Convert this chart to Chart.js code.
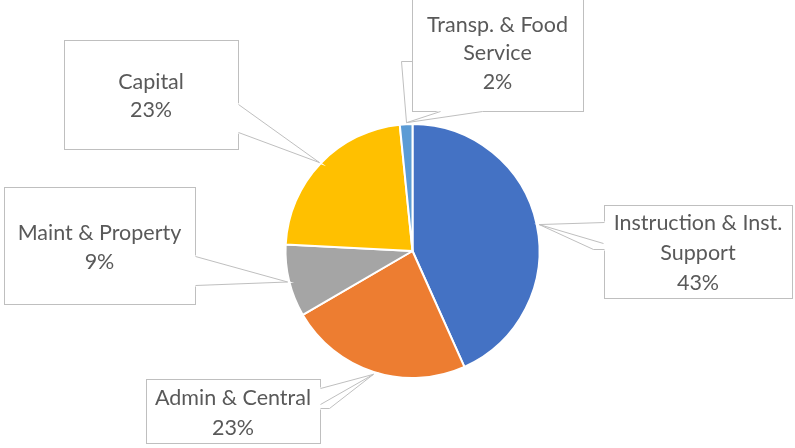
<!DOCTYPE html>
<html lang="en">
<head>
  <meta charset="UTF-8">
  <title>Budget Share</title>
  <script src="https://cdn.jsdelivr.net/npm/chart.js"></script>
  <style>
    body {
      margin: 0;
      background-color: #fff;
    }

    .chart-container {
      position: relative;
      width: 795px;
      height: 448px;
    }
  </style>
</head>
<body>
  <div class="chart-container">
    <canvas id="budget-chart"></canvas>
  </div>

  <script>
    // Data
    const categories = ["Instruction & Inst. Support", "Admin & Central", "Maint & Property", "Capital", "Transp. & Food Service"];
    const shares = [43.3, 23.3, 9.2, 22.6, 1.6];
    const percentLabels = ["43%", "23%", "9%", "23%", "2%"];
    const labelLines = [["Instruction & Inst.", "Support"], ["Admin & Central"], ["Maint & Property"], ["Capital"], ["Transp. & Food", "Service"]];
    const sliceColors = ["#4472C4", "#ED7D31", "#A5A5A5", "#FFC000", "#5B9BD5"];

    // Callout boxes (layout only); "T" stands for the tip on the slice edge
    const callouts = [
      {
        box: [604, 205, 188, 93], textX: 698, textY: [223, 253, 283],
        gap: [[604, 222], "T", [604, 249]],
        lines: [[[604, 222], "T", [603, 243]], ["T", [593, 249], [604, 249]]]
      },
      {
        box: [146, 379, 174, 64], textX: 233, textY: [398, 428],
        gap: [[320, 388], "T", [320, 408]],
        lines: [[[320, 388], "T", [320, 404]], ["T", [329, 408], [320, 408]]]
      },
      {
        box: [4, 187, 191, 117], textX: 99.5, textY: [233, 262],
        gap: [[195, 256], "T", [195, 285]],
        lines: [[[195, 256], "T", [195, 285]]]
      },
      {
        box: [64, 40, 174, 109], textX: 151, textY: [82, 110],
        gap: [[238, 104], "T", [238, 132]],
        lines: [[[238, 104], "T", [238, 132]]]
      },
      {
        box: [412, -1, 171, 112], textX: 497.5, textY: [25, 53, 82],
        gap: [[440, 111], "T", [482, 111]],
        lines: [[[440, 111], "T", [482, 111]], [[412, 61], [401, 61], "T"]]
      }
    ];

    const calloutPlugin = {
      id: "callouts",
      afterDatasetsDraw(chart) {
        const ctx = chart.ctx;
        const meta = chart.getDatasetMeta(0);

        meta.data.forEach((arc, i) => {
          const p = arc.getProps(["x", "y", "startAngle", "endAngle", "outerRadius"], true);
          const mid = (p.startAngle + p.endAngle) / 2;
          const tip = [p.x + Math.cos(mid) * (p.outerRadius + 2), p.y + Math.sin(mid) * (p.outerRadius + 2)];
          const c = callouts[i];
          const pt = (q) => (q === "T" ? tip : q);

          ctx.save();
          ctx.lineWidth = 1;
          ctx.strokeStyle = "#BFBFBF";
          ctx.fillStyle = "#fff";

          // box
          const [bx, by, bw, bh] = c.box;
          ctx.fillRect(bx + 0.5, by + 0.5, bw, bh);
          ctx.strokeRect(bx + 0.5, by + 0.5, bw, bh);

          // wedge fill hides the box edge under it
          ctx.beginPath();
          c.gap.map(pt).forEach((q, k) => {
            const x = q[0] + 0.5, y = q[1] + 0.5;
            k ? ctx.lineTo(x, y) : ctx.moveTo(x, y);
          });
          ctx.closePath();
          ctx.lineWidth = 2;
          ctx.strokeStyle = "#fff";
          ctx.fill();
          ctx.stroke();

          ctx.lineWidth = 1;
          ctx.strokeStyle = "#BFBFBF";
          c.lines.forEach((line) => {
            ctx.beginPath();
            line.map(pt).forEach((q, k) => {
              const x = q[0] + 0.5, y = q[1] + 0.5;
              k ? ctx.lineTo(x, y) : ctx.moveTo(x, y);
            });
            ctx.stroke();
          });

          // text
          ctx.fillStyle = "#595959";
          ctx.font = "21.5px Lato";
          ctx.textAlign = "center";
          ctx.textBaseline = "middle";
          const rows = labelLines[i].concat([percentLabels[i]]);
          rows.forEach((row, k) => ctx.fillText(row, c.textX, c.textY[k]));
          ctx.restore();
        });
      }
    };

    new Chart(document.getElementById("budget-chart"), {
      type: "pie",
      data: {
        labels: categories,
        datasets: [
          {
            data: shares,
            backgroundColor: sliceColors,
            borderColor: "#fff",
            borderWidth: 2,
            radius: 127
          }
        ]
      },
      options: {
        responsive: true,
        maintainAspectRatio: false,
        animation: false,
        layout: {
          padding: { left: 285, right: 255, top: 123, bottom: 69 }
        },
        plugins: {
          legend: { display: false },
          tooltip: { enabled: false }
        }
      },
      plugins: [calloutPlugin]
    });
  </script>
</body>
</html>
